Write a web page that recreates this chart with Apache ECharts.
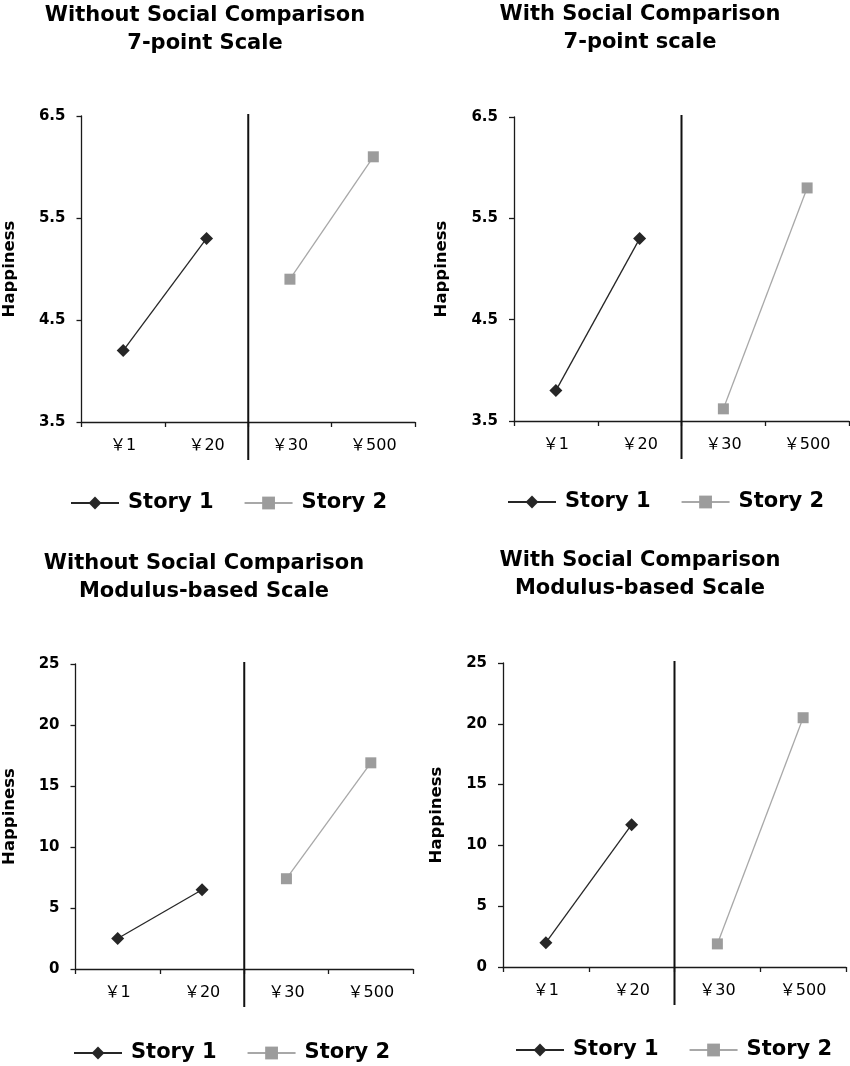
<!DOCTYPE html>
<html>
<head>
<meta charset="utf-8">
<script src="https://cdn.jsdelivr.net/npm/echarts@6/dist/echarts.min.js"></script>
<style>
  html, body { margin: 0; padding: 0; background: #fff; }
  #main { width: 850px; height: 1066px; }
</style>
</head>
<body>
<div id="main"></div>
<script>
// 数据
const categories = ['￥1', '￥20', '￥30', '￥500']
const titles = [
  'Without Social Comparison\n7-point Scale',
  'With Social Comparison\n7-point scale',
  'Without Social Comparison\nModulus-based Scale',
  'With Social Comparison\nModulus-based Scale'
]
const story1 = [
  [4.2, 5.3, null, null],
  [3.8, 5.3, null, null],
  [2.5, 6.5, null, null],
  [2.0, 11.7, null, null]
]
const story2 = [
  [null, null, 4.9, 6.1],
  [null, null, 3.62, 5.8],
  [null, null, 7.4, 16.9],
  [null, null, 1.9, 20.5]
]
const yMin = [3.5, 3.5, 0, 0]
const yMax = [6.5, 6.5, 25, 25]
const yTicks = [
  [3.5, 4.5, 5.5, 6.5],
  [3.5, 4.5, 5.5, 6.5],
  [0, 5, 10, 15, 20, 25],
  [0, 5, 10, 15, 20, 25]
]

// 布局
const grids = [
  { left: 80, top: 116, width: 335, height: 306 },
  { left: 514, top: 117, width: 335, height: 304 },
  { left: 70, top: 664, width: 343, height: 305 },
  { left: 503, top: 663, width: 343, height: 304 }
]
const titlePos = [[205, 2], [640, 1], [204, 550], [640, 547]]
const legendPos = [[70, 490], [507, 489], [73, 1040], [515, 1037]]
const nameGaps = [64, 64, 58, 58]

const font = "'DejaVu Sans', 'Noto Sans CJK SC', sans-serif"
const axisColor = '#1a1a1a'

const option = {
  animation: false,
  backgroundColor: '#fff',
  textStyle: { fontFamily: font },
  title: titles.map((t, i) => ({
    text: t,
    left: titlePos[i][0],
    top: titlePos[i][1],
    textAlign: 'center',
    textVerticalAlign: 'top',
    padding: 0,
    textStyle: { fontSize: 21, fontWeight: 'bold', color: '#000', lineHeight: 28, fontFamily: font }
  })),
  legend: legendPos.map(p => ({
    data: ['Story 1', 'Story 2'],
    left: p[0],
    top: p[1],
    orient: 'horizontal',
    padding: 0,
    itemWidth: 48,
    itemHeight: 16,
    itemGap: 30,
    selectedMode: false,
    textStyle: { fontSize: 21, fontWeight: 'bold', color: '#000', lineHeight: 26, padding: [0, 0, 0, 4], fontFamily: font }
  })),
  grid: grids.map(g => Object.assign({ containLabel: false }, g)),
  xAxis: grids.map((g, i) => ({
    type: 'category',
    gridIndex: i,
    data: categories,
    boundaryGap: true,
    axisLine: { show: true, lineStyle: { color: axisColor, width: 1.3 } },
    axisTick: { show: true, length: 5, lineStyle: { color: axisColor, width: 1.3 } },
    axisLabel: { fontSize: 16, color: '#000', margin: 16, fontFamily: font },
    splitLine: { show: false }
  })),
  yAxis: grids.map((g, i) => {
    const ax = {
      type: 'value',
      gridIndex: i,
      min: yMin[i],
      max: yMax[i],
      name: 'Happiness',
      nameLocation: 'middle',
      nameGap: nameGaps[i],
      nameTextStyle: { fontSize: 16.5, fontWeight: 'bold', color: '#000', fontFamily: font },
      axisLine: { show: true, lineStyle: { color: axisColor, width: 1.3 } },
      axisTick: { show: true, length: 5, lineStyle: { color: axisColor, width: 1.3 } },
      axisLabel: { fontSize: 15, fontWeight: 'bold', color: '#000', margin: 16, fontFamily: font },
      splitLine: { show: false }
    }
    if (yMin[i] === 0) {
      ax.interval = 5
    } else {
      ax.interval = 0.5
      ax.axisLabel.customValues = yTicks[i]
      ax.axisTick.customValues = yTicks[i]
    }
    return ax
  }),
  series: []
}

for (let i = 0; i < 4; i++) {
  option.series.push({
    name: 'Story 1',
    type: 'line',
    xAxisIndex: i,
    yAxisIndex: i,
    data: story1[i],
    symbol: 'diamond',
    symbolSize: 13,
    showAllSymbol: true,
    itemStyle: { color: '#262626' },
    lineStyle: { color: '#262626', width: 1.3 }
  })
  option.series.push({
    name: 'Story 2',
    type: 'line',
    xAxisIndex: i,
    yAxisIndex: i,
    data: story2[i],
    symbol: 'rect',
    symbolSize: 11,
    showAllSymbol: true,
    itemStyle: { color: '#9c9c9c' },
    lineStyle: { color: '#a8a8a8', width: 1.3 }
  })
}

const myChart = echarts.init(document.getElementById('main'))
myChart.setOption(option)

// 分隔线：￥20 与 ￥30 之间，由坐标轴换算位置
const dividers = []
for (let i = 0; i < 4; i++) {
  const xa = myChart.convertToPixel({ xAxisIndex: i }, categories[1])
  const xb = myChart.convertToPixel({ xAxisIndex: i }, categories[2])
  const x = (xa + xb) / 2
  const yTop = myChart.convertToPixel({ yAxisIndex: i }, yMax[i])
  const yBot = myChart.convertToPixel({ yAxisIndex: i }, yMin[i])
  dividers.push({
    type: 'line',
    shape: { x1: x, y1: yTop - 2, x2: x, y2: yBot + 38 },
    style: { stroke: '#111', lineWidth: 2 },
    z: 10
  })
}
myChart.setOption({ graphic: dividers })
</script>
</body>
</html>
